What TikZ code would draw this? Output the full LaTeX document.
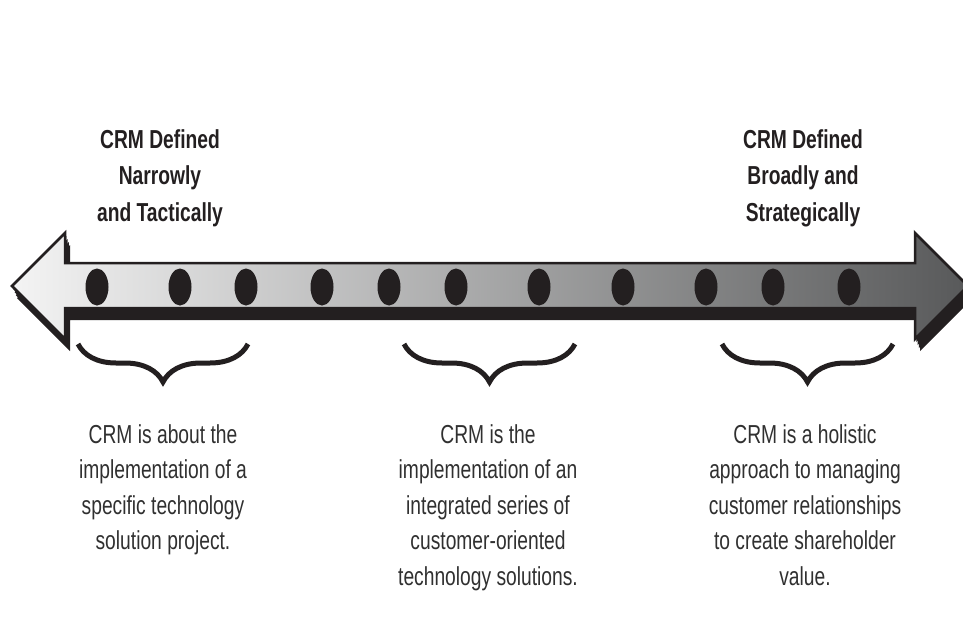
\documentclass[tikz,border=0pt]{standalone}
\usepackage{fontspec}
\setmainfont{Liberation Sans}[FakeStretch=0.74]
\usetikzlibrary{positioning,shapes.geometric,decorations.pathreplacing}

\definecolor{inkdark}{HTML}{231F20}
\definecolor{textgray}{HTML}{303030}
\definecolor{barlight}{HTML}{F4F4F4}
\definecolor{barmid}{HTML}{B9BCBF}
\definecolor{bardark}{HTML}{58595A}

\newcommand{\crmarrow}{(12,286) -- (65,233) -- (65,263) -- (915,263) -- (915,233) -- (968,286) -- (915,339) -- (915,308) -- (65,308) -- (65,339) -- cycle}

\begin{document}
\begin{tikzpicture}[x=1pt, y=-1pt,
        heading/.style={align=center, inner sep=0pt, text=inkdark, font=\bfseries\fontsize{26}{36.5}\selectfont},
        desc/.style={align=center, inner sep=0pt, text=textgray, font=\fontsize{26}{35.5}\selectfont},
        dot/.style={ellipse, fill=inkdark, minimum width=23pt, minimum height=37pt, inner sep=0pt},
        brace/.style={draw=inkdark, line width=5pt, decorate, decoration={brace, mirror, amplitude=38pt}}
    ]
    \useasboundingbox (0,0) rectangle (963,639);

    % Arrow with its shadow
    \foreach \s in {0.25,0.5,0.75,1}
        \fill[inkdark, shift={(5*\s,12*\s)}] \crmarrow;
    \draw[draw=inkdark, line width=2.5pt, left color=barlight, middle color=barmid, right color=bardark] \crmarrow;

    % Dots
    \foreach \x [count=\i] in {97,180,246,322,389,456,539,623,706,773,849}
        \node[dot] (dot\i) at (\x,287) {};

    % Headings
    \node[heading, anchor=north] (narrow) at (160,129) {CRM Defined\\Narrowly\\and Tactically};
    \node[heading, anchor=north] (broad) at (803,129) {CRM Defined\\Broadly and\\Strategically};

    % Braces
    \coordinate (tactL) at (78,344);
    \coordinate (tactR) at (248,344);
    \coordinate (integL) at (404,344);
    \coordinate (integR) at (575,344);
    \coordinate (holL) at (722,344);
    \coordinate (holR) at (893,344);
    \draw[brace] (tactL) -- (tactR);
    \draw[brace] (integL) -- (integR);
    \draw[brace] (holL) -- (holR);

    % Descriptions
    \node[desc, anchor=north] (tactdesc) at (163,424) {CRM is about the\\implementation of a\\specific technology\\solution project.};
    \node[desc, anchor=north] (integdesc) at (488,424) {CRM is the\\implementation of an\\integrated series of\\customer-oriented\\technology solutions.};
    \node[desc, anchor=north] (holdesc) at (805,424) {CRM is a holistic\\approach to managing\\customer relationships\\to create shareholder\\value.};

\end{tikzpicture}
\end{document}
